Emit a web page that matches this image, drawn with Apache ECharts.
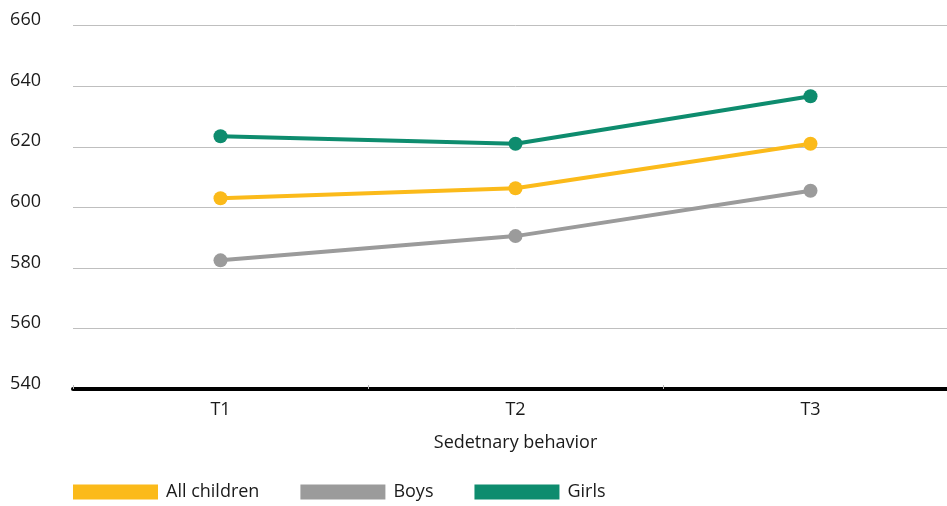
<!DOCTYPE html>
<html><head><meta charset="utf-8">
<script src="https://cdn.jsdelivr.net/npm/echarts@6/dist/echarts.min.js"></script>
<style>html,body{margin:0;padding:0;background:#fff;overflow:hidden}#c{width:958px;height:506px}</style>
</head><body><div id="c"></div>
<script>
const categories = ['T1', 'T2', 'T3'];
const allChildren = [603.0, 606.3, 621.0];
const boys = [582.5, 590.5, 605.5];
const girls = [623.5, 621.0, 636.7];
const yTicks = [540, 560, 580, 600, 620, 640, 660];
const seriesNames = ['All children', 'Boys', 'Girls'];
const colors = ['#FBBA1A', '#9B9B9B', '#0E8C6E'];
const font = '"Open Sans", "Noto Sans", sans-serif';

const chart = echarts.init(document.getElementById('c'));
const mk = (name, data, color) => ({
  name, type: 'line', data, color,
  symbol: 'circle', symbolSize: 14,
  lineStyle: { width: 4, color },
  itemStyle: { color },
  emphasis: { disabled: true }
});
chart.setOption({
  animation: false,
  color: colors,
  grid: { left: 73, right: 0, top: 25.7, bottom: 117, containLabel: false },
  legend: {
    left: 73, top: 483, padding: 0,
    icon: 'rect', itemWidth: 85, itemHeight: 15, itemGap: 41,
    textStyle: { fontFamily: font, fontSize: 18, color: '#1a1a1a', padding: [0, 0, 0, 3] },
    data: seriesNames
  },
  xAxis: {
    type: 'category', data: categories, boundaryGap: true,
    axisLine: { lineStyle: { color: '#000', width: 4 } },
    axisTick: { show: true, inside: true, length: 4, lineStyle: { color: '#bbb', width: 1 } },
    axisLabel: { fontFamily: font, fontSize: 18, color: '#1a1a1a', margin: 12 },
    name: 'Sedetnary behavior', nameLocation: 'middle', nameGap: 45,
    nameTextStyle: { fontFamily: font, fontSize: 18, color: '#1a1a1a' }
  },
  yAxis: {
    type: 'value', min: yTicks[0], max: yTicks[yTicks.length - 1], interval: 20,
    axisLine: { show: false }, axisTick: { show: false },
    splitLine: { lineStyle: { color: '#BFBFBF', width: 1 } },
    axisLabel: {
      margin: 32, verticalAlign: 'middle',
      formatter: v => '{a|' + v + '}',
      rich: { a: { fontFamily: font, fontSize: 18, color: '#1a1a1a', padding: [0, 0, 11, 0] } }
    }
  },
  series: [
    mk(seriesNames[0], allChildren, colors[0]),
    mk(seriesNames[1], boys, colors[1]),
    mk(seriesNames[2], girls, colors[2])
  ]
});
</script></body></html>
